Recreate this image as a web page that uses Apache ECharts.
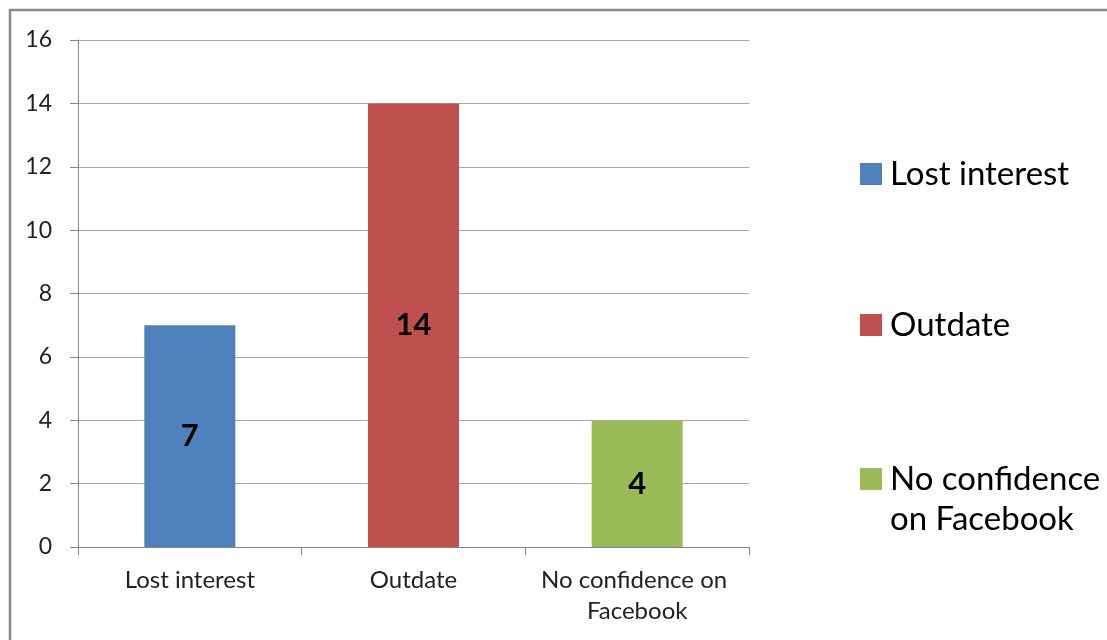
<!DOCTYPE html>
<html>
<head>
<meta charset="utf-8">
<script src="https://cdn.jsdelivr.net/npm/echarts@6/dist/echarts.min.js"></script>
<style>
  html, body { margin: 0; padding: 0; background: #fff; }
  #chart { width: 1107px; height: 640px; }
</style>
</head>
<body>
<div id="chart"></div>
<script>
// data
const categories = ["Lost interest", "Outdate", "No confidence on Facebook"];
const seriesNames = ["Lost interest", "Outdate", "No confidence on Facebook"];
const values = [7, 14, 4];
const colors = ["#4F81BD", "#C0504D", "#9BBB59"];
const yTicks = { min: 0, max: 16, interval: 2 };

const font = "Lato, 'Open Sans', sans-serif";
const axisGray = "#868686";
const gridGray = "#a6a6a6";

const chart = echarts.init(document.getElementById("chart"));

// one series per category, stacked so every bar sits centred in its slot
const series = seriesNames.map((name, i) => ({
  name,
  type: "bar",
  stack: "all",
  barWidth: 91,
  itemStyle: { color: colors[i] },
  label: {
    show: true,
    position: "inside",
    color: "#000",
    fontFamily: font,
    fontWeight: "bold",
    fontSize: 31,
  },
  data: categories.map((c, j) => (j === i ? values[i] : "-")),
}));

// legend items placed one by one, as in the original;
// the two-line one gets an empty line on top so the swatch sits by the first line
const legendTops = [149, 300, 414];
const legends = seriesNames.map((name, i) => ({
  data: [name],
  orient: "vertical",
  left: 855,
  top: legendTops[i],
  itemWidth: 22,
  itemHeight: 22,
  itemGap: 0,
  icon: "rect",
  selectedMode: false,
  formatter: (n) => (n.indexOf(" on ") > 0 ? "\n" + n.replace(" on ", "\non ") : n),
  textStyle: {
    fontFamily: font,
    fontSize: 33,
    color: "#000",
    lineHeight: 40,
    padding: [0, 0, 0, 3],
  },
}));

chart.setOption({
  animation: false,
  graphic: [{
    type: "rect",
    shape: { x: 10, y: 10, width: 1200, height: 700 },
    style: { fill: "none", stroke: "#8a8a8a", lineWidth: 2.5 },
  }],
  grid: { left: 78, right: 358, top: 40, bottom: 93 },
  legend: legends,
  xAxis: {
    type: "category",
    data: categories,
    axisLine: { lineStyle: { color: axisGray, width: 1 } },
    axisTick: { show: true, length: 8, lineStyle: { color: axisGray } },
    axisLabel: {
      interval: 0,
      color: "#222",
      fontFamily: font,
      fontSize: 24,
      margin: 18,
      lineHeight: 31,
      width: 215,
      overflow: "break",
    },
  },
  yAxis: {
    type: "value",
    min: yTicks.min,
    max: yTicks.max,
    interval: yTicks.interval,
    axisLine: { show: true, lineStyle: { color: axisGray, width: 1 } },
    axisTick: { show: true, length: 8, lineStyle: { color: axisGray } },
    axisLabel: { color: "#222", fontFamily: font, fontSize: 23, margin: 26 },
    splitLine: { lineStyle: { color: gridGray, width: 1 } },
  },
  series,
});
</script>
</body>
</html>
